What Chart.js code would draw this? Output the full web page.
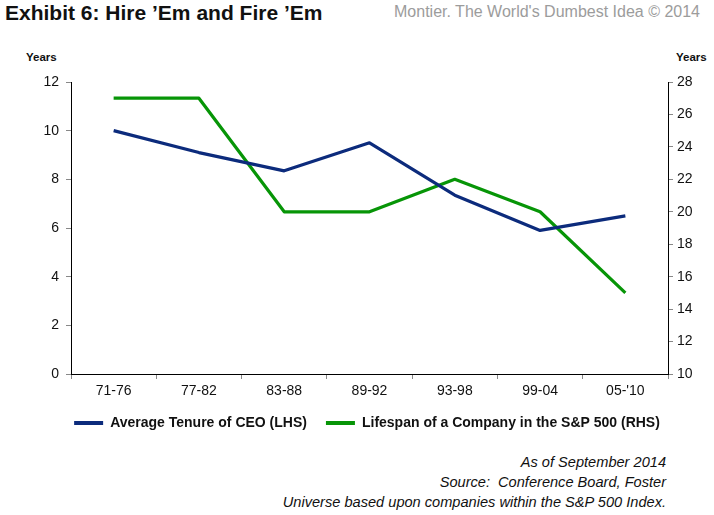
<!DOCTYPE html>
<html>
<head>
<meta charset="utf-8">
<script src="https://cdn.jsdelivr.net/npm/chart.js@4"></script>
<style>
  html, body { margin:0; padding:0; background:#fff; }
  body { width:714px; height:515px; position:relative; overflow:hidden; font-family:"Liberation Sans", Arial, sans-serif; }
  #wrap { position:absolute; left:0; top:0; width:714px; height:440px; }
  .t { position:absolute; white-space:nowrap; }
  #title { left:5px; top:1px; font-size:21px; font-weight:bold; color:#111; }
  #credit { right:14px; top:3px; font-size:16px; color:#9c9c9c; }
  #yl { left:26px; top:51px; font-size:11.5px; font-weight:bold; color:#111; }
  #yr { left:676px; top:51px; font-size:11.5px; font-weight:bold; color:#111; }
  #notes { right:48px; top:452px; font-size:14.6px; font-style:italic; color:#111; text-align:right; line-height:20px; }
</style>
</head>
<body>
<div class="t" id="title">Exhibit 6: Hire ’Em and Fire ’Em</div>
<div class="t" id="credit">Montier. The World's Dumbest Idea © 2014</div>
<div class="t" id="yl">Years</div>
<div class="t" id="yr">Years</div>
<div id="wrap"><canvas id="c"></canvas></div>
<div class="t" id="notes">As of September 2014<br>Source:&nbsp; Conference Board, Foster<br>Universe based upon companies within the S&amp;P 500 Index.</div>
<script>
const categories = ["71-76", "77-82", "83-88", "89-92", "93-98", "99-04", "05-'10"];
const ceoTenure = [10.0, 9.1, 8.35, 9.5, 7.35, 5.9, 6.5];
const companyLifespan = [27, 27, 20, 20, 22, 20, 15];
const seriesNames = ["Average Tenure of CEO (LHS)", "Lifespan of a Company in the S&P 500 (RHS)"];

const tickFont = { family: "'Liberation Sans', Arial, sans-serif", size: 14 };

new Chart(document.getElementById('c'), {
  type: 'line',
  data: {
    labels: categories,
    datasets: [
      { label: seriesNames[0], data: ceoTenure, yAxisID: 'yL', borderColor: '#0c2b7c', backgroundColor: '#0c2b7c', borderWidth: 3.2, pointRadius: 0, tension: 0, borderJoinStyle: 'round' },
      { label: seriesNames[1], data: companyLifespan, yAxisID: 'yR', borderColor: '#079507', backgroundColor: '#079507', borderWidth: 3.2, pointRadius: 0, tension: 0, borderJoinStyle: 'round' }
    ]
  },
  options: {
    responsive: true,
    maintainAspectRatio: false,
    animation: false,
    layout: { padding: { top: 82, right: 0, left: 20, bottom: 0 } },
    plugins: {
      tooltip: { enabled: false },
      legend: {
        position: 'bottom',
        labels: {
          color: '#111',
          font: { family: "'Liberation Sans', Arial, sans-serif", size: 14, weight: 'bold' },
          boxWidth: 29, boxHeight: 4, padding: 19,
          generateLabels(chart) {
            return chart.data.datasets.map((d, i) => ({ text: d.label, fillStyle: d.borderColor, strokeStyle: d.borderColor, lineWidth: 0, datasetIndex: i, fontColor: '#111' }));
          }
        }
      }
    },
    scales: {
      x: {
        offset: true,
        grid: { offset: true, drawOnChartArea: false, drawTicks: true, tickLength: 5, color: '#888' },
        border: { color: '#000', width: 1 },
        ticks: { color: '#111', font: tickFont, padding: 4, maxRotation: 0 },
        afterFit(s) { s.height = 23; }
      },
      yL: {
        position: 'left', min: 0, max: 12,
        grid: { drawOnChartArea: false, tickLength: 5, color: '#888' },
        border: { color: '#000', width: 1 },
        ticks: { stepSize: 2, color: '#111', font: tickFont, padding: 7 },
        afterFit(s) { s.width = 51; }
      },
      yR: {
        position: 'right', min: 10, max: 28,
        grid: { drawOnChartArea: false, tickLength: 5, color: '#888' },
        border: { color: '#000', width: 1 },
        ticks: { stepSize: 2, color: '#111', font: tickFont, padding: 4 },
        afterFit(s) { s.width = 46; }
      }
    }
  }
});
</script>
</body>
</html>
